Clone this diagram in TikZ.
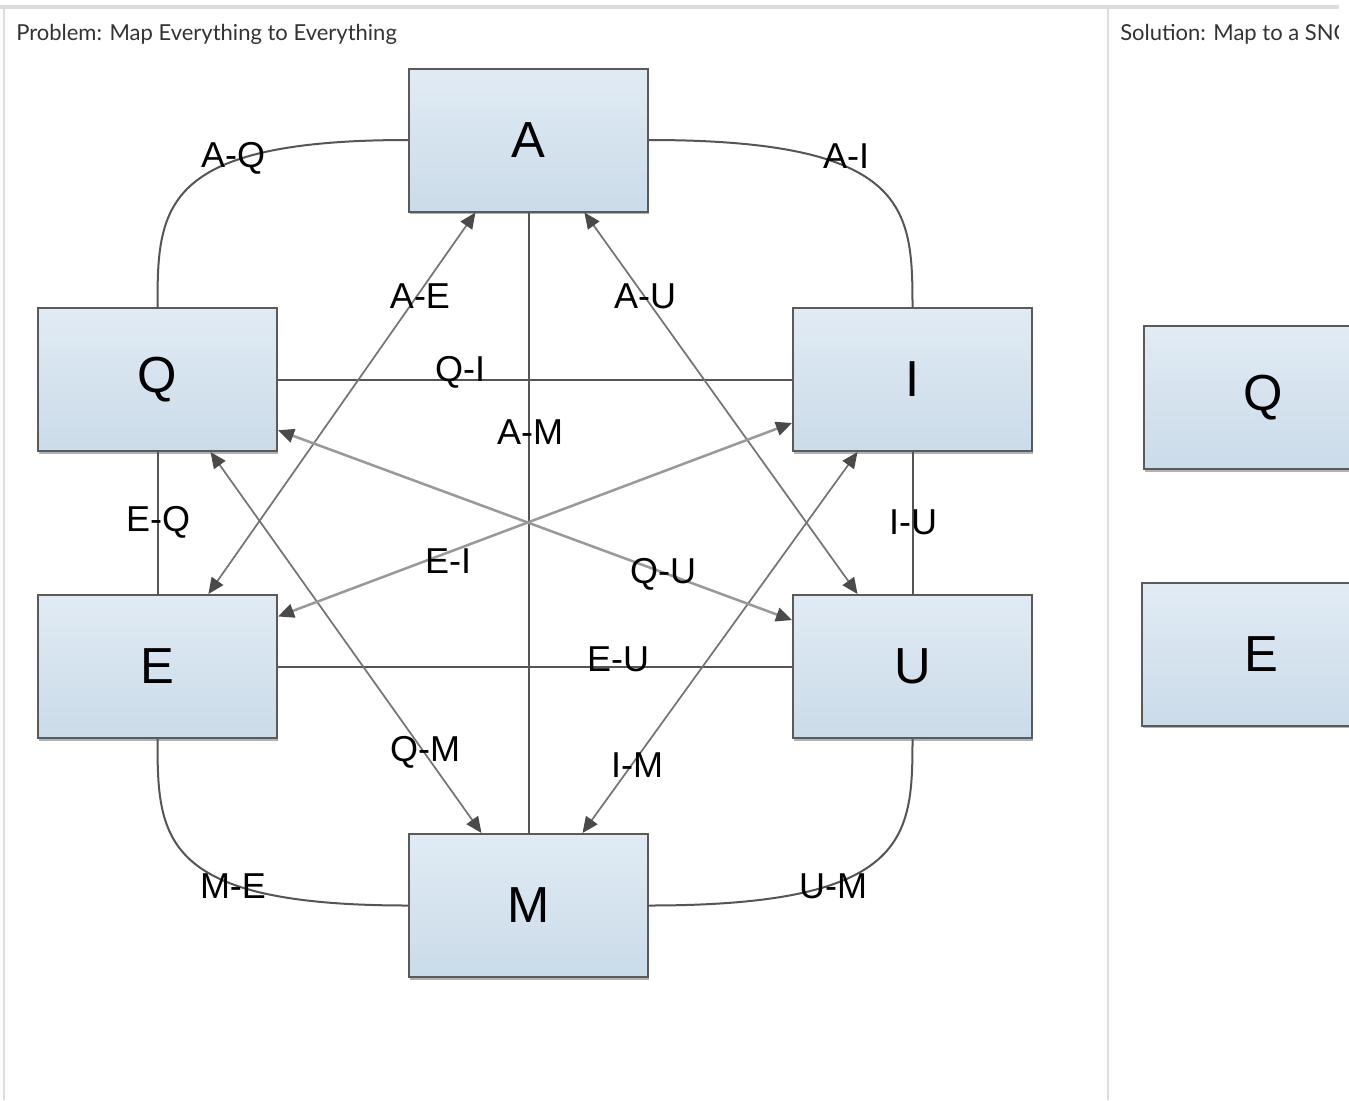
\documentclass[tikz,border=0pt]{standalone}
\usepackage{fontspec}
\setmainfont{Liberation Sans}
\newfontfamily\titlefont{Lato}
\usetikzlibrary{arrows.meta,calc}
\definecolor{framegray}{HTML}{DCDCDC}
\definecolor{boxtop}{HTML}{E1EBF4}
\definecolor{boxbot}{HTML}{CADBE9}
\definecolor{boxline}{HTML}{5A5A5A}
\definecolor{linegray}{HTML}{555555}
\definecolor{arrline}{HTML}{747474}
\definecolor{arrlight}{HTML}{999999}
\definecolor{tipgray}{HTML}{4A4A4A}
\definecolor{titlegray}{HTML}{333333}
\begin{document}
\begin{tikzpicture}[x=0.75pt,y=-0.75pt,
  entity/.style={rectangle,draw=boxline,line width=1.5pt,top color=boxtop,bottom color=boxbot,
    minimum width=179.25pt,minimum height=107.25pt,inner sep=0pt,
    font=\fontsize{38}{40}\selectfont},
  shadowbox/.style={rectangle,fill=black!30,minimum width=179.25pt,minimum height=107.25pt,inner sep=0pt},
  plain/.style={draw=linegray,line width=1.5pt},
  twoway/.style={draw=arrline,line width=1.3pt,{Triangle[length=12pt,width=10.5pt,color=tipgray]}-{Triangle[length=12pt,width=10.5pt,color=tipgray]}},
  twowaylight/.style={draw=arrlight,line width=1.9pt,{Triangle[length=12pt,width=10.5pt,color=tipgray]}-{Triangle[length=12pt,width=10.5pt,color=tipgray]}},
  elabel/.style={font=\fontsize{27}{29}\selectfont,inner sep=0pt},
  paneltitle/.style={font=\titlefont\fontsize{16.5}{19}\selectfont,text=titlegray,anchor=base west,inner sep=0pt}
]
\useasboundingbox (0,0) rectangle (1349,1100);
\clip (0,0) rectangle (1349,1100);
\fill[white] (0,0) rectangle (1349,1100);
% frame
\draw[framegray,line width=3pt] (0,7) -- (1339,7);
\draw[framegray,line width=1.5pt] (4,9) -- (4,1100);
\draw[framegray,line width=2pt] (1108,9) -- (1108,1100);
% titles
\node[paneltitle] (t1) at (16,40) {Problem: Map Everything to Everything};
\begin{scope}
\clip (1110,10) rectangle (1338,60);
\node[paneltitle] (t2) at (1120,40) {Solution: Map to a SNO};
\end{scope}
% shadows
\foreach \p in {(529.5,142.5),(158.5,382),(913.5,382),(158.5,669),(913.5,669),(529.5,908),(1264.5,400),(1262.5,656.5)}
  \node[shadowbox] at \p {};
% boxes
\node[entity] (A) at (528.5,140) {A};
\node[entity] (Q) at (157.5,379.5) {Q};
\node[entity] (I) at (912.5,379.5) {I};
\node[entity] (E) at (157.5,666.5) {E};
\node[entity] (U) at (912.5,666.5) {U};
\node[entity] (M) at (528.5,905.5) {M};
\node[entity] (Q2) at (1263.5,397.5) {Q};
\node[entity] (E2) at (1261.5,654) {E};
% straight connectors
\draw[plain] (A.south) -- (M.north);
\draw[plain] (Q.east) -- (I.west);
\draw[plain] (E.east) -- (U.west);
\draw[plain] (Q.south) -- (E.north);
\draw[plain] (I.south) -- (U.north);
% curved connectors
\draw[plain] (A.west) .. controls +(-248,0) and +(0,-99) .. (Q.north);
\draw[plain] (A.east) .. controls +(260,0) and +(0,-99) .. (I.north);
\draw[plain] (M.west) .. controls +(-248,0) and +(0,99) .. (E.south);
\draw[plain] (M.east) .. controls +(260,0) and +(0,99) .. (U.south);
% arrow end points
\coordinate (aAE) at ($(A.south west)!0.28!(A.south east)$);
\coordinate (eAE) at ($(E.north west)!0.711!(E.north east)$);
\coordinate (aAU) at ($(A.south west)!0.732!(A.south east)$);
\coordinate (uAU) at ($(U.north west)!0.272!(U.north east)$);
\coordinate (qQM) at ($(Q.south west)!0.72!(Q.south east)$);
\coordinate (mQM) at ($(M.north west)!0.305!(M.north east)$);
\coordinate (iIM) at ($(I.south west)!0.272!(I.south east)$);
\coordinate (mIM) at ($(M.north west)!0.724!(M.north east)$);
\coordinate (qQU) at ($(Q.north east)!0.85!(Q.south east)$);
\coordinate (uQU) at ($(U.north west)!0.18!(U.south west)$);
\coordinate (eEI) at ($(E.north east)!0.155!(E.south east)$);
\coordinate (iEI) at ($(I.north west)!0.80!(I.south west)$);
% double arrows
\draw[twoway] (aAE) -- (eAE);
\draw[twoway] (aAU) -- (uAU);
\draw[twoway] (qQM) -- (mQM);
\draw[twoway] (iIM) -- (mIM);
\draw[twowaylight] (qQU) -- (uQU);
\draw[twowaylight] (eEI) -- (iEI);
% labels
\node[elabel] (lAQ) at (233,158) {A-Q};
\node[elabel] (lAI) at (846,156) {A-I};
\node[elabel] (lAE) at (420,296) {A-E};
\node[elabel] (lAU) at (645,296) {A-U};
\node[elabel] (lQI) at (460,372) {Q-I};
\node[elabel] (lAM) at (530,432) {A-M};
\node[elabel] (lEQ) at (158,522) {E-Q};
\node[elabel] (lIU) at (913,522) {I-U};
\node[elabel] (lEI) at (448,561) {E-I};
\node[elabel] (lQU) at (663,574) {Q-U};
\node[elabel] (lEU) at (618,659) {E-U};
\node[elabel] (lQM) at (425,752) {Q-M};
\node[elabel] (lIM) at (637,765) {I-M};
\node[elabel] (lME) at (233,886) {M-E};
\node[elabel] (lUM) at (833,886) {U-M};
\end{tikzpicture}
\end{document}
